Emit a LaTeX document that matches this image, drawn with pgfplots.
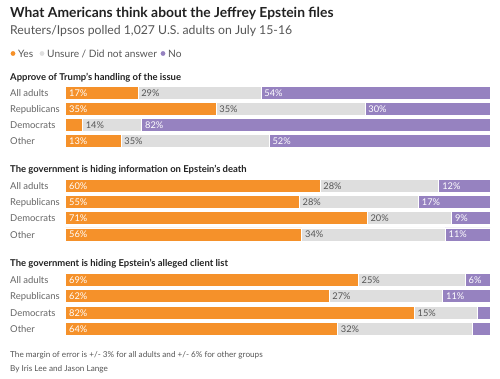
\documentclass[border=0pt]{standalone}
\usepackage{pgfplots}
\pgfplotsset{compat=1.18}
\usepackage{fontspec}
\setmainfont{Lato}
\definecolor{cyes}{HTML}{F5912A}
\definecolor{cuns}{HTML}{DEDEDE}
\definecolor{cno}{HTML}{9682C0}
\definecolor{ctitle}{HTML}{222222}
\definecolor{csub}{HTML}{555555}
\definecolor{crow}{HTML}{666666}
\tikzset{
  lw/.style={anchor=west, xshift=2.3bp, inner sep=1bp, text=white, font=\fontsize{9.3}{10}\selectfont},
  lg/.style={anchor=west, xshift=2.3bp, inner sep=1bp, text=csub, font=\fontsize{9.3}{10}\selectfont},
  pt/.style={anchor=base west, inner sep=0, text=ctitle, font=\fontsize{9.5}{11}\selectfont\bfseries},
  rl/.style={anchor=base west, inner sep=0, text=crow, font=\fontsize{9.5}{11}\selectfont}
}
\pgfplotsset{
  frame/.style={at={(65.7bp,0bp)}, anchor=north west,
  scale only axis, x=4.245bp, y=1bp,
  xmin=0, xmax=100, ymin=0, ymax=378, y dir=reverse,
  hide axis, clip=false}
}
\begin{document}
\begin{tikzpicture}[x=1bp,y=1bp]
\path[use as bounding box] (0,0) rectangle (500,-378);
\begin{axis}[frame,
  xbar stacked, bar width=13.3bp,
  every axis plot/.append style={draw=white, line width=0.7bp},
]
% Yes
\addplot[fill=cyes] coordinates {
 (17.0,93) (35.4,109) (3.9,125) (13.0,141)
 (59.9,186) (55.0,202) (71.0,218) (55.6,234.5)
 (68.9,279.7) (62.0,296) (82.1,312.7) (64.0,328.7)};
% Unsure
\addplot[fill=cuns] coordinates {
 (29.0,93) (35.1,109) (14.0,125) (34.9,141)
 (28.0,186) (28.1,202) (19.9,218) (33.8,234.5)
 (25.2,279.7) (26.8,296) (14.8,312.7) (31.9,328.7)};
% No
\addplot[fill=cno] coordinates {
 (54.0,93) (29.5,109) (82.1,125) (52.1,141)
 (12.1,186) (16.9,202) (9.1,218) (10.6,234.5)
 (5.9,279.7) (11.2,296) (3.1,312.7) (4.1,328.7)};
\end{axis}
\begin{axis}[frame]
% white labels (Yes and No segments), placed at segment start
\addplot[draw=none, mark=none, point meta=explicit symbolic,
  nodes near coords={\pgfplotspointmeta\%},
  nodes near coords style={lw}] coordinates {
 (0,93) [17] (46.0,93) [54]
 (0,109) [35] (70.5,109) [30]
 (17.9,125) [82]
 (0,141) [13] (47.9,141) [52]
 (0,186) [60] (87.9,186) [12]
 (0,202) [55] (83.1,202) [17]
 (0,218) [71] (90.9,218) [9]
 (0,234.5) [56] (89.4,234.5) [11]
 (0,279.7) [69] (94.1,279.7) [6]
 (0,296) [62] (88.8,296) [11]
 (0,312.7) [82]
 (0,328.7) [64]};
% grey labels (Unsure segments)
\addplot[draw=none, mark=none, point meta=explicit symbolic,
  nodes near coords={\pgfplotspointmeta\%},
  nodes near coords style={lg}] coordinates {
 (17.0,93) [29] (35.4,109) [35] (3.9,125) [14] (13.0,141) [35]
 (59.9,186) [28] (55.0,202) [28] (71.0,218) [20] (55.6,234.5) [34]
 (68.9,279.7) [25] (62.0,296) [27] (82.1,312.7) [15] (64.0,328.7) [32]};
\end{axis}
% titles
\node[anchor=base west, inner sep=0, text=ctitle, font=\fontsize{13.9}{16}\selectfont\bfseries] at (10,-17) {What Americans think about the Jeffrey Epstein files};
\node[anchor=base west, inner sep=0, text=csub, font=\fontsize{12.3}{14}\selectfont] at (10,-34) {Reuters/Ipsos polled 1,027 U.S. adults on July 15-16};
% legend
\fill[cyes] (13,-53.5) circle (2.4);
\node[anchor=base west, inner sep=0, text=csub, font=\fontsize{10.2}{12}\selectfont] at (18,-57) {Yes};
\fill[cuns] (42,-53.5) circle (2.4);
\node[anchor=base west, inner sep=0, text=csub, font=\fontsize{10.2}{12}\selectfont] at (47,-57) {Unsure / Did not answer};
\fill[cno] (163,-53.5) circle (2.4);
\node[anchor=base west, inner sep=0, text=csub, font=\fontsize{10.2}{12}\selectfont] at (168,-57) {No};
% panel titles
\node[pt] at (10,-80) {Approve of Trump's handling of the issue};
\node[pt] at (10,-172.5) {The government is hiding information on Epstein's death};
\node[pt] at (10,-266.5) {The government is hiding Epstein's alleged client list};
% row labels
\foreach \yy in {93,186,279.7} {\node[rl] at (10,-\yy-3.5) {All adults};}
\foreach \yy in {109,202,296} {\node[rl] at (10,-\yy-3.5) {Republicans};}
\foreach \yy in {125,218,312.7} {\node[rl] at (10,-\yy-3.5) {Democrats};}
\foreach \yy in {141,234.5,328.7} {\node[rl] at (10,-\yy-3.5) {Other};}
% notes
\node[anchor=base west, inner sep=0, text=csub, font=\fontsize{8.2}{10}\selectfont] at (10,-357) {The margin of error is +/- 3\% for all adults and +/- 6\% for other groups};
\node[anchor=base west, inner sep=0, text=csub, font=\fontsize{8.2}{10}\selectfont] at (10,-371.5) {By Iris Lee and Jason Lange};
\end{tikzpicture}
\end{document}
